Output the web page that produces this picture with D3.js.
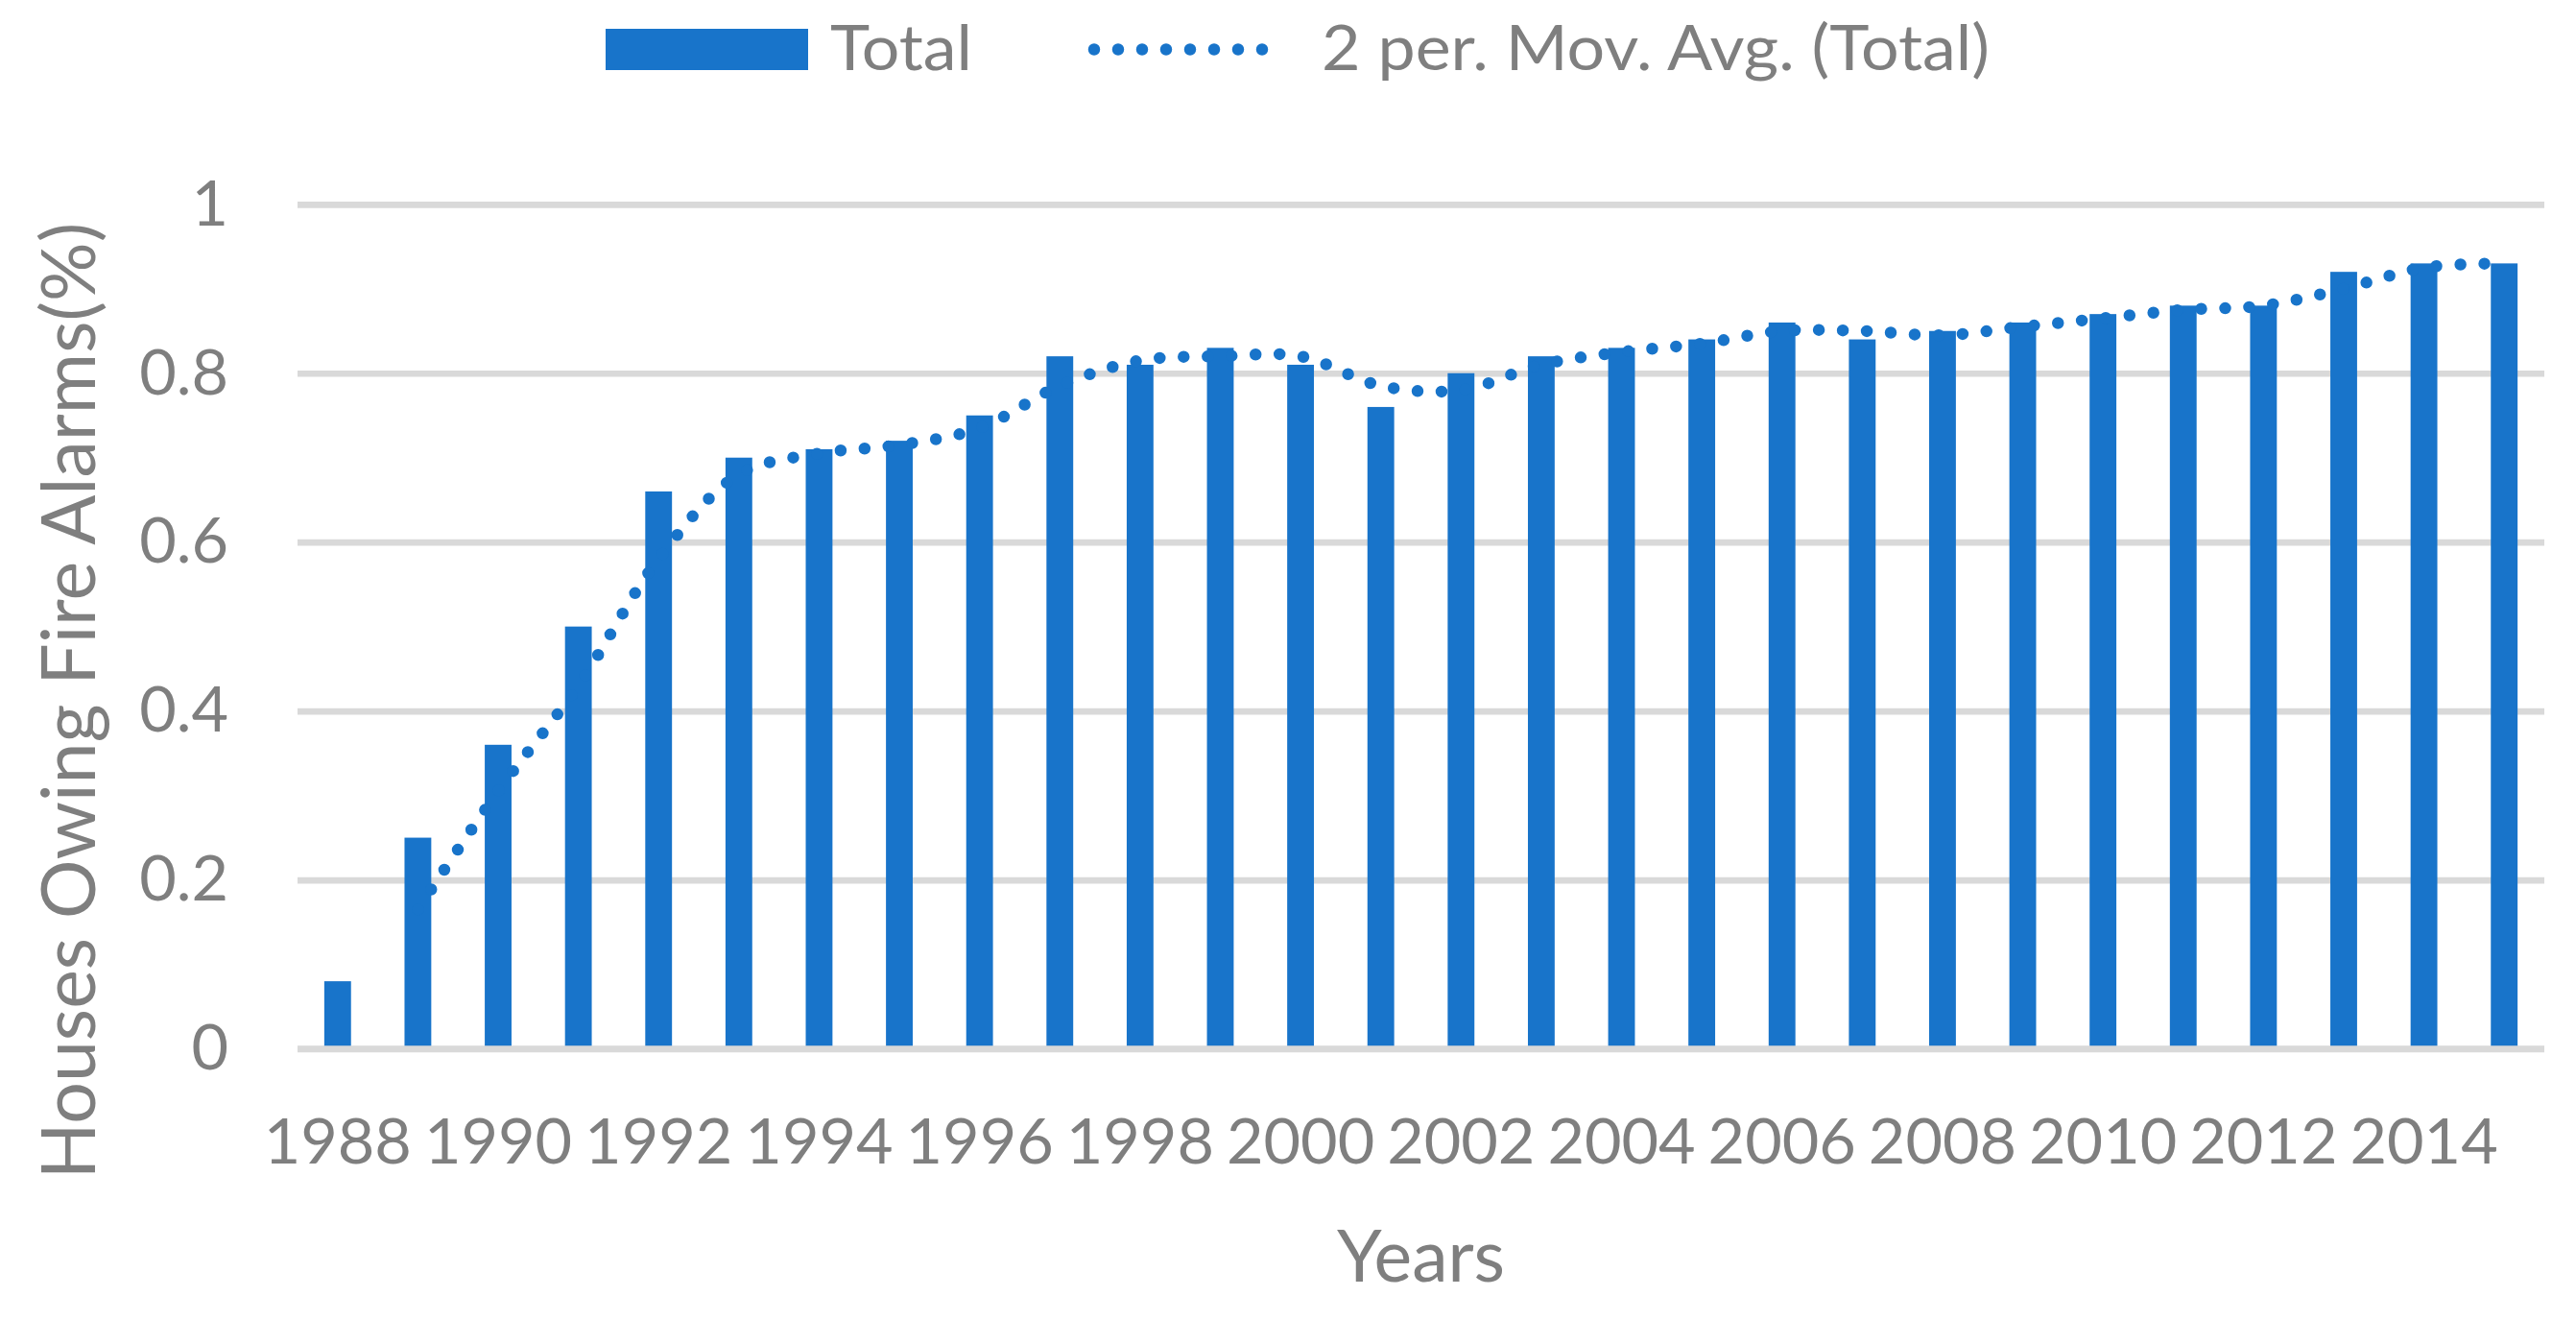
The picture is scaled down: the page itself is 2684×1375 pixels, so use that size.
<!DOCTYPE html>
<html>
<head>
<meta charset="utf-8">
<script src="https://cdn.jsdelivr.net/npm/d3@7"></script>
<style>
  html, body { margin: 0; padding: 0; background: #ffffff; }
  svg { display: block; }
  text { font-family: Lato, "Open Sans", sans-serif; fill: #7f7f7f; }
</style>
</head>
<body>
<svg id="chart" width="2684" height="1375"></svg>
<script>
// ---- data ----
const years = [1988, 1989, 1990, 1991, 1992, 1993, 1994, 1995, 1996, 1997, 1998, 1999, 2000, 2001,
               2002, 2003, 2004, 2005, 2006, 2007, 2008, 2009, 2010, 2011, 2012, 2013, 2014, 2015];
const totals = [0.08, 0.25, 0.36, 0.50, 0.66, 0.70, 0.71, 0.72, 0.75, 0.82, 0.81, 0.83, 0.81, 0.76,
                0.80, 0.82, 0.83, 0.84, 0.86, 0.84, 0.85, 0.86, 0.87, 0.88, 0.88, 0.92, 0.93, 0.93];
const yTickValues = [0, 0.2, 0.4, 0.6, 0.8, 1];
const xTickYears = [1988, 1990, 1992, 1994, 1996, 1998, 2000, 2002, 2004, 2006, 2008, 2010, 2012, 2014];
const seriesName = "Total";
const trendName = "2 per. Mov. Avg. (Total)";
const xTitle = "Years";
const yTitle = "Houses Owing Fire Alarms(%)";

// 2-period moving average trendline (Excel definition), starting at the 2nd point
const movAvg = totals.map((v, i) => i === 0 ? null : { year: years[i], value: (totals[i - 1] + v) / 2 })
                     .filter(d => d !== null);

// ---- layout ----
const blue = "#1874CA";
const gridColor = "#D9D9D9";
const plotLeft = 310, plotRight = 2651, plotTop = 212.8, plotBottom = 1092.5;

const svg = d3.select("#chart");

const x = d3.scaleBand().domain(years).range([plotLeft, plotRight]).paddingInner(2 / 3).paddingOuter(1 / 3);
const y = d3.scaleLinear().domain([0, 1]).range([plotBottom, plotTop]);

// y axis with gridlines
const yAxis = svg.append("g")
  .attr("transform", `translate(${plotLeft},0)`)
  .call(d3.axisLeft(y).tickValues(yTickValues).tickFormat(d3.format("~g"))
        .tickSize(-(plotRight - plotLeft)).tickPadding(72));
yAxis.select(".domain").remove();
yAxis.selectAll(".tick line").attr("stroke", gridColor).attr("stroke-width", 6.7);
yAxis.selectAll(".tick text").attr("fill", "#7f7f7f").style("font-size", "66.5px")
  .style("font-family", "Lato, 'Open Sans', sans-serif");

// bars
svg.append("g").selectAll("rect")
  .data(years.map((yr, i) => ({ year: yr, value: totals[i] })))
  .join("rect")
  .attr("x", d => x(d.year))
  .attr("width", x.bandwidth())
  .attr("y", d => y(d.value))
  .attr("height", d => y(0) - y(d.value))
  .attr("fill", blue);

// zero line on top of bars
svg.append("line")
  .attr("x1", plotLeft).attr("x2", plotRight)
  .attr("y1", y(0)).attr("y2", y(0))
  .attr("stroke", gridColor).attr("stroke-width", 6.7);

// x axis labels
const xAxis = svg.append("g")
  .attr("transform", `translate(0,${plotBottom})`)
  .call(d3.axisBottom(x).tickValues(xTickYears).tickSize(0).tickPadding(71.8));
xAxis.select(".domain").remove();
xAxis.selectAll(".tick text").attr("fill", "#7f7f7f").style("font-size", "66.5px")
  .style("font-family", "Lato, 'Open Sans', sans-serif");

// moving average trendline (round dots)
const line = d3.line()
  .x(d => x(d.year) + x.bandwidth() / 2)
  .y(d => y(d.value))
  .curve(d3.curveCatmullRom);
svg.append("path")
  .datum(movAvg)
  .attr("d", line)
  .attr("fill", "none")
  .attr("stroke", blue)
  .attr("stroke-width", 12.5)
  .attr("stroke-linecap", "round")
  .attr("stroke-dasharray", "0 25");

// axis titles
svg.append("text")
  .attr("x", (plotLeft + plotRight) / 2).attr("y", 1335)
  .attr("text-anchor", "middle")
  .style("font-size", "75px")
  .text(xTitle);

svg.append("text")
  .attr("transform", "translate(99,730) rotate(-90)")
  .attr("text-anchor", "middle")
  .style("font-size", "77px")
  .text(yTitle);

// legend
const legend = svg.append("g");
legend.append("rect")
  .attr("x", 631).attr("y", 30).attr("width", 211).attr("height", 43)
  .attr("fill", blue);
legend.append("text")
  .attr("x", 865).attr("y", 72.7)
  .style("font-size", "66.5px")
  .attr("textLength", 148).attr("lengthAdjust", "spacingAndGlyphs")
  .text(seriesName);
legend.append("line")
  .attr("x1", 1140).attr("x2", 1340).attr("y1", 51.5).attr("y2", 51.5)
  .attr("stroke", blue).attr("stroke-width", 12.5)
  .attr("stroke-linecap", "round").attr("stroke-dasharray", "0 25");
legend.append("text")
  .attr("x", 1377).attr("y", 72.7)
  .style("font-size", "66.5px")
  .attr("textLength", 696).attr("lengthAdjust", "spacingAndGlyphs")
  .text(trendName);
</script>
</body>
</html>
